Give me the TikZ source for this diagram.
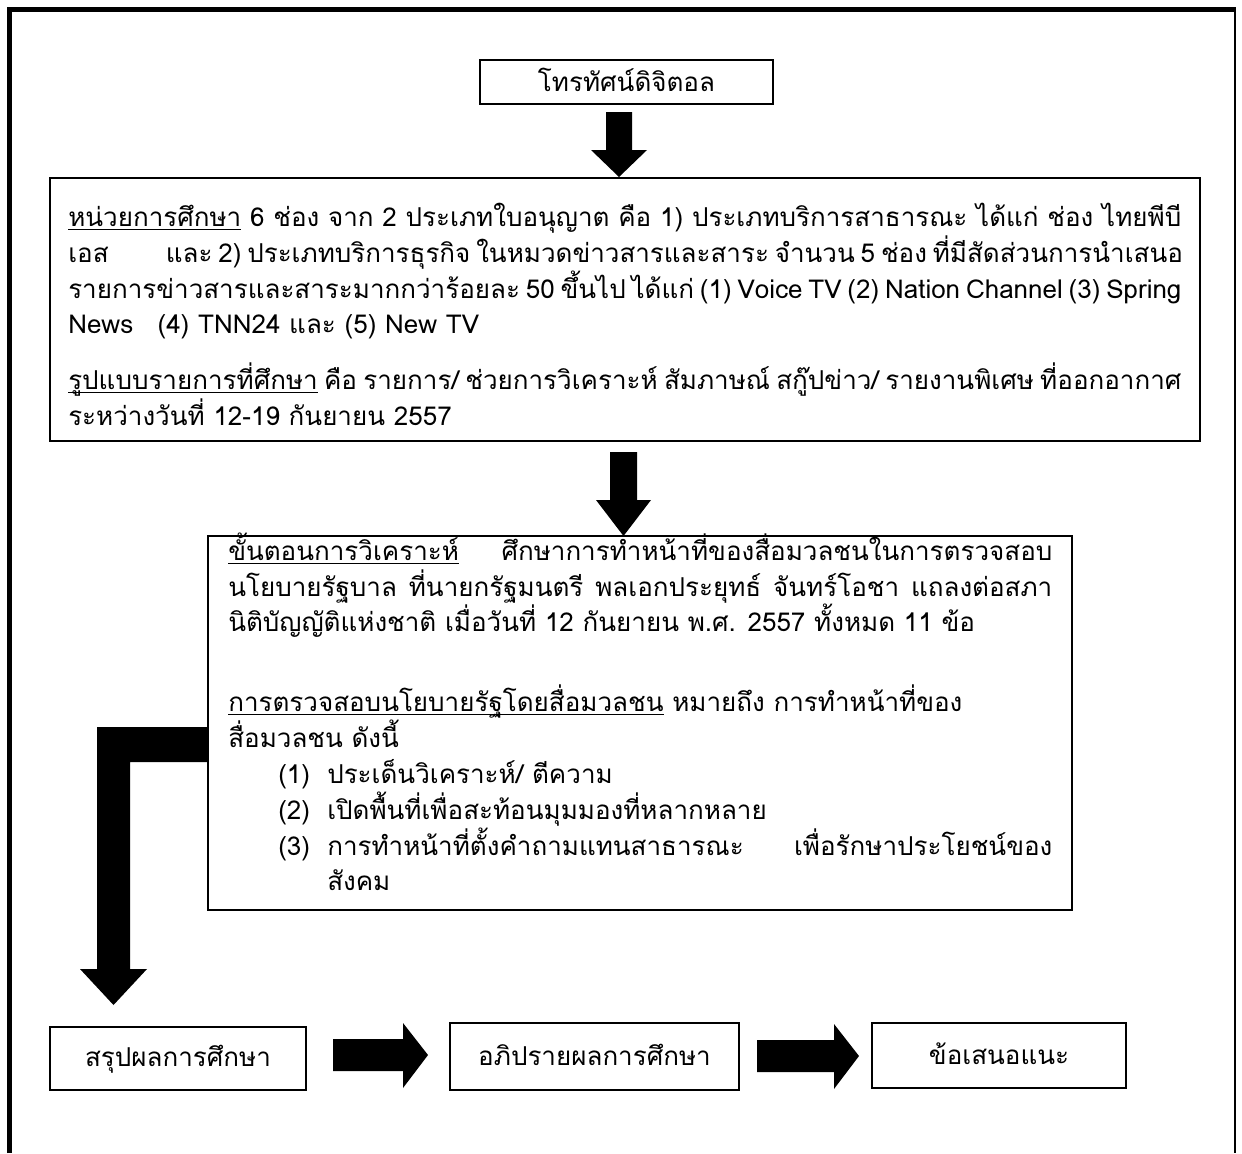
\documentclass[tikz,border=0pt]{standalone}
\usepackage{fontspec}
\setmainfont[Script=Thai]{Loma}
\usetikzlibrary{calc}
\newcommand\myul[1]{{\setbox0\hbox{#1}\rlap{\rule[-3.2pt]{\wd0}{0.9pt}}\box0}}
\newcommand\jline[2]{\makebox[#1][s]{#2}}
\begin{document}
\begin{tikzpicture}[x=0.75pt,y=-0.75pt,
  every node/.style={font=\fontsize{19.5pt}{23pt}\selectfont, inner sep=0pt},
  box/.style={draw, line width=1pt, inner sep=0pt},
  txt/.style={anchor=base west},
  blk/.style={fill=black, draw=none}]
\useasboundingbox (0,0) rectangle (1242,1153);
% outer frame
\draw[line width=3.75pt] (9.5,1153) -- (9.5,9.5) -- (1236,9.5);
\draw[line width=2.2pt] (1235,9.5) -- (1235,1153);

% boxes
\node[box, minimum width=219.75pt, minimum height=33pt] (tv) at (626.5,82) {};
\node[anchor=base] (tvt) at (626.5,91) {โทรทัศน์ดิจิตอล};

\node[box, minimum width=862.5pt, minimum height=197.25pt] (unit) at (625,309.5) {};
\node[box, minimum width=648pt, minimum height=280.5pt] (step) at (640,723) {};

\node[box, minimum width=192pt, minimum height=47.25pt] (sum) at (178,1058.5) {};
\node[anchor=base] (sumt) at (178,1066) {สรุปผลการศึกษา};
\node[box, minimum width=216.75pt, minimum height=50.25pt] (disc) at (594.5,1056.5) {};
\node[anchor=base] (disct) at (594.5,1065) {อภิปรายผลการศึกษา};
\node[box, minimum width=190.5pt, minimum height=48.75pt] (sugg) at (999,1055.5) {};
\node[anchor=base] (suggt) at (999,1064) {ข้อเสนอแนะ};

% text of box 2
\node[txt] (u1) at (68,226) {\jline{834.75pt}{\myul{หน่วยการศึกษา} 6 ช่อง จาก 2 ประเภทใบอนุญาต คือ 1) ประเภทบริการสาธารณะ ได้แก่ ช่อง ไทยพีบี}};
\node[txt] (u2) at (68,262) {\jline{834.75pt}{เอส\hspace{2.2em}และ 2) ประเภทบริการธุรกิจ ในหมวดข่าวสารและสาระ จำนวน 5 ช่อง ที่มีสัดส่วนการนำเสนอ}};
\node[txt] (u3) at (68,298) {\jline{834.75pt}{รายการข่าวสารและสาระมากกว่าร้อยละ 50 ขึ้นไป ได้แก่ (1) Voice TV (2) Nation Channel (3) Spring}};
\node[txt] (u4) at (68,333) {News\hspace{0.6em} (4) TNN24 และ (5) New TV};
\node[txt] (u5) at (68,389) {\jline{834.75pt}{\myul{รูปแบบรายการที่ศึกษา} คือ รายการ/ ช่วยการวิเคราะห์ สัมภาษณ์ สกู๊ปข่าว/ รายงานพิเศษ ที่ออกอากาศ}};
\node[txt] (u6) at (68,425) {ระหว่างวันที่ 12-19 กันยายน 2557};

% text of box 3
\node[txt] (s1) at (228,560) {\jline{618pt}{\myul{ขั้นตอนการวิเคราะห์} ศึกษาการทำหน้าที่ของสื่อมวลชนในการตรวจสอบ}};
\node[txt] (s2) at (228,596) {\jline{618pt}{นโยบายรัฐบาล ที่นายกรัฐมนตรี พลเอกประยุทธ์ จันทร์โอชา แถลงต่อสภา}};
\node[txt] (s3) at (228,631) {นิติบัญญัติแห่งชาติ เมื่อวันที่ 12 กันยายน พ.ศ. 2557 ทั้งหมด 11 ข้อ};
\node[txt] (s4) at (228,711) {\myul{การตรวจสอบนโยบายรัฐโดยสื่อมวลชน} หมายถึง การทำหน้าที่ของ};
\node[txt] (s5) at (228,747) {สื่อมวลชน ดังนี้};
\node[txt] (n1) at (278,783) {(1)};
\node[txt] (s6) at (327,783) {ประเด็นวิเคราะห์/ ตีความ};
\node[txt] (n2) at (278,819) {(2)};
\node[txt] (s7) at (327,819) {เปิดพื้นที่เพื่อสะท้อนมุมมองที่หลากหลาย};
\node[txt] (n3) at (278,855) {(3)};
\node[txt] (s8) at (327,855) {\jline{543.75pt}{การทำหน้าที่ตั้งคำถามแทนสาธารณะ เพื่อรักษาประโยชน์ของ}};
\node[txt] (s9) at (327,890) {สังคม};

% block arrows
\fill[blk] (606,112) -- (632,112) -- (632,150) -- (647,150) -- (619,177) -- (591,150) -- (606,150) -- cycle;
\fill[blk] (610,452) -- (637,452) -- (637,500) -- (651,500) -- (623.5,536) -- (596,500) -- (610,500) -- cycle;
\fill[blk] (208,727) -- (208,762) -- (130,762) -- (130,969) -- (147,969) -- (113.5,1005) -- (80,969) -- (97,969) -- (97,727) -- cycle;
\fill[blk] (333,1039) -- (403,1039) -- (403,1023) -- (428,1055) -- (403,1088) -- (403,1071) -- (333,1071) -- cycle;
\fill[blk] (757,1040) -- (834,1040) -- (834,1024) -- (859,1056) -- (834,1089) -- (834,1072) -- (757,1072) -- cycle;
\end{tikzpicture}
\end{document}
